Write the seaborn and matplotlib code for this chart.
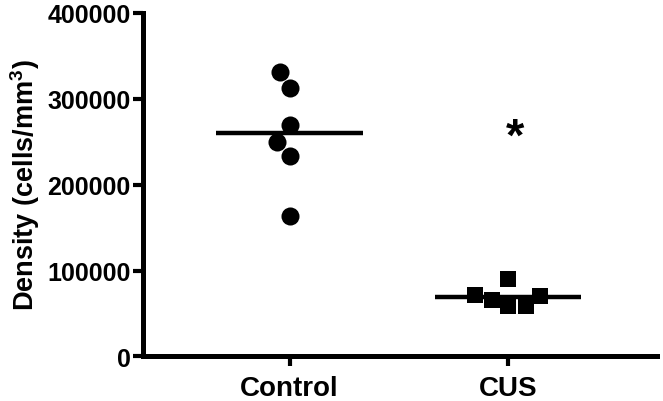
import numpy as np
import pandas as pd
import matplotlib
matplotlib.use("Agg")
import matplotlib.pyplot as plt
import seaborn as sns

groups = ["Control", "CUS"]
control_vals = [330500, 312200, 269200, 249000, 233500, 163700]
cus_vals = [71900, 65700, 90100, 59100, 59100, 70700]
y_ticks = [0, 100000, 200000, 300000, 400000]
ylabel = "Density (cells/mm$\\mathregular{^3}$)"
sig_label = "*"
sig_value = 254000

sns.set_theme(style="ticks")
plt.rcParams["font.family"] = ["Liberation Sans", "DejaVu Sans"]
plt.rcParams["font.weight"] = "bold"
plt.rcParams["mathtext.default"] = "regular"
plt.rcParams["axes.labelcolor"] = "black"
plt.rcParams["text.color"] = "black"

df = pd.DataFrame({
    "group": ["Control"] * len(control_vals) + ["CUS"] * len(cus_vals),
    "value": control_vals + cus_vals,
})

fig = plt.figure(figsize=(6.63, 4.02), dpi=100)
ax = fig.add_axes([0.2157, 0.1107, 0.775, 0.8557])

sns.swarmplot(data=df[df.group == "Control"], x="group", y="value", order=groups,
              marker="o", color="black", size=13, linewidth=0, ax=ax, clip_on=False)
sns.swarmplot(data=df[df.group == "CUS"], x="group", y="value", order=groups,
              marker="s", color="black", size=12, linewidth=0, ax=ax, clip_on=False)

for i, g in enumerate(groups):
    m = np.mean(df[df.group == g]["value"])
    ax.hlines(m, i - 0.335, i + 0.335, color="black", linewidth=3.2, zorder=3)

ax.text(1.03, sig_value, sig_label, ha="center", va="center", fontsize=34,
        fontweight="bold", color="black")

ax.set_xlim(-0.67, 1.68)
ax.set_ylim(0, 400000)
ax.set_yticks(y_ticks)
ax.set_yticklabels([str(v) for v in y_ticks])
ax.set_xlabel("")
ax.set_ylabel(ylabel, fontsize=19.5, fontweight="bold", labelpad=4, color="black")

for side in ["top", "right"]:
    ax.spines[side].set_visible(False)
for side in ["left", "bottom"]:
    ax.spines[side].set_linewidth(3.6)
    ax.spines[side].set_color("black")

ax.tick_params(axis="y", length=7, width=3, labelsize=18, colors="black", pad=2)
ax.tick_params(axis="x", length=7, width=3, labelsize=20, colors="black", pad=6)
for lab in ax.get_xticklabels() + ax.get_yticklabels():
    lab.set_fontweight("bold")

fig.savefig("out.png", dpi=100)
